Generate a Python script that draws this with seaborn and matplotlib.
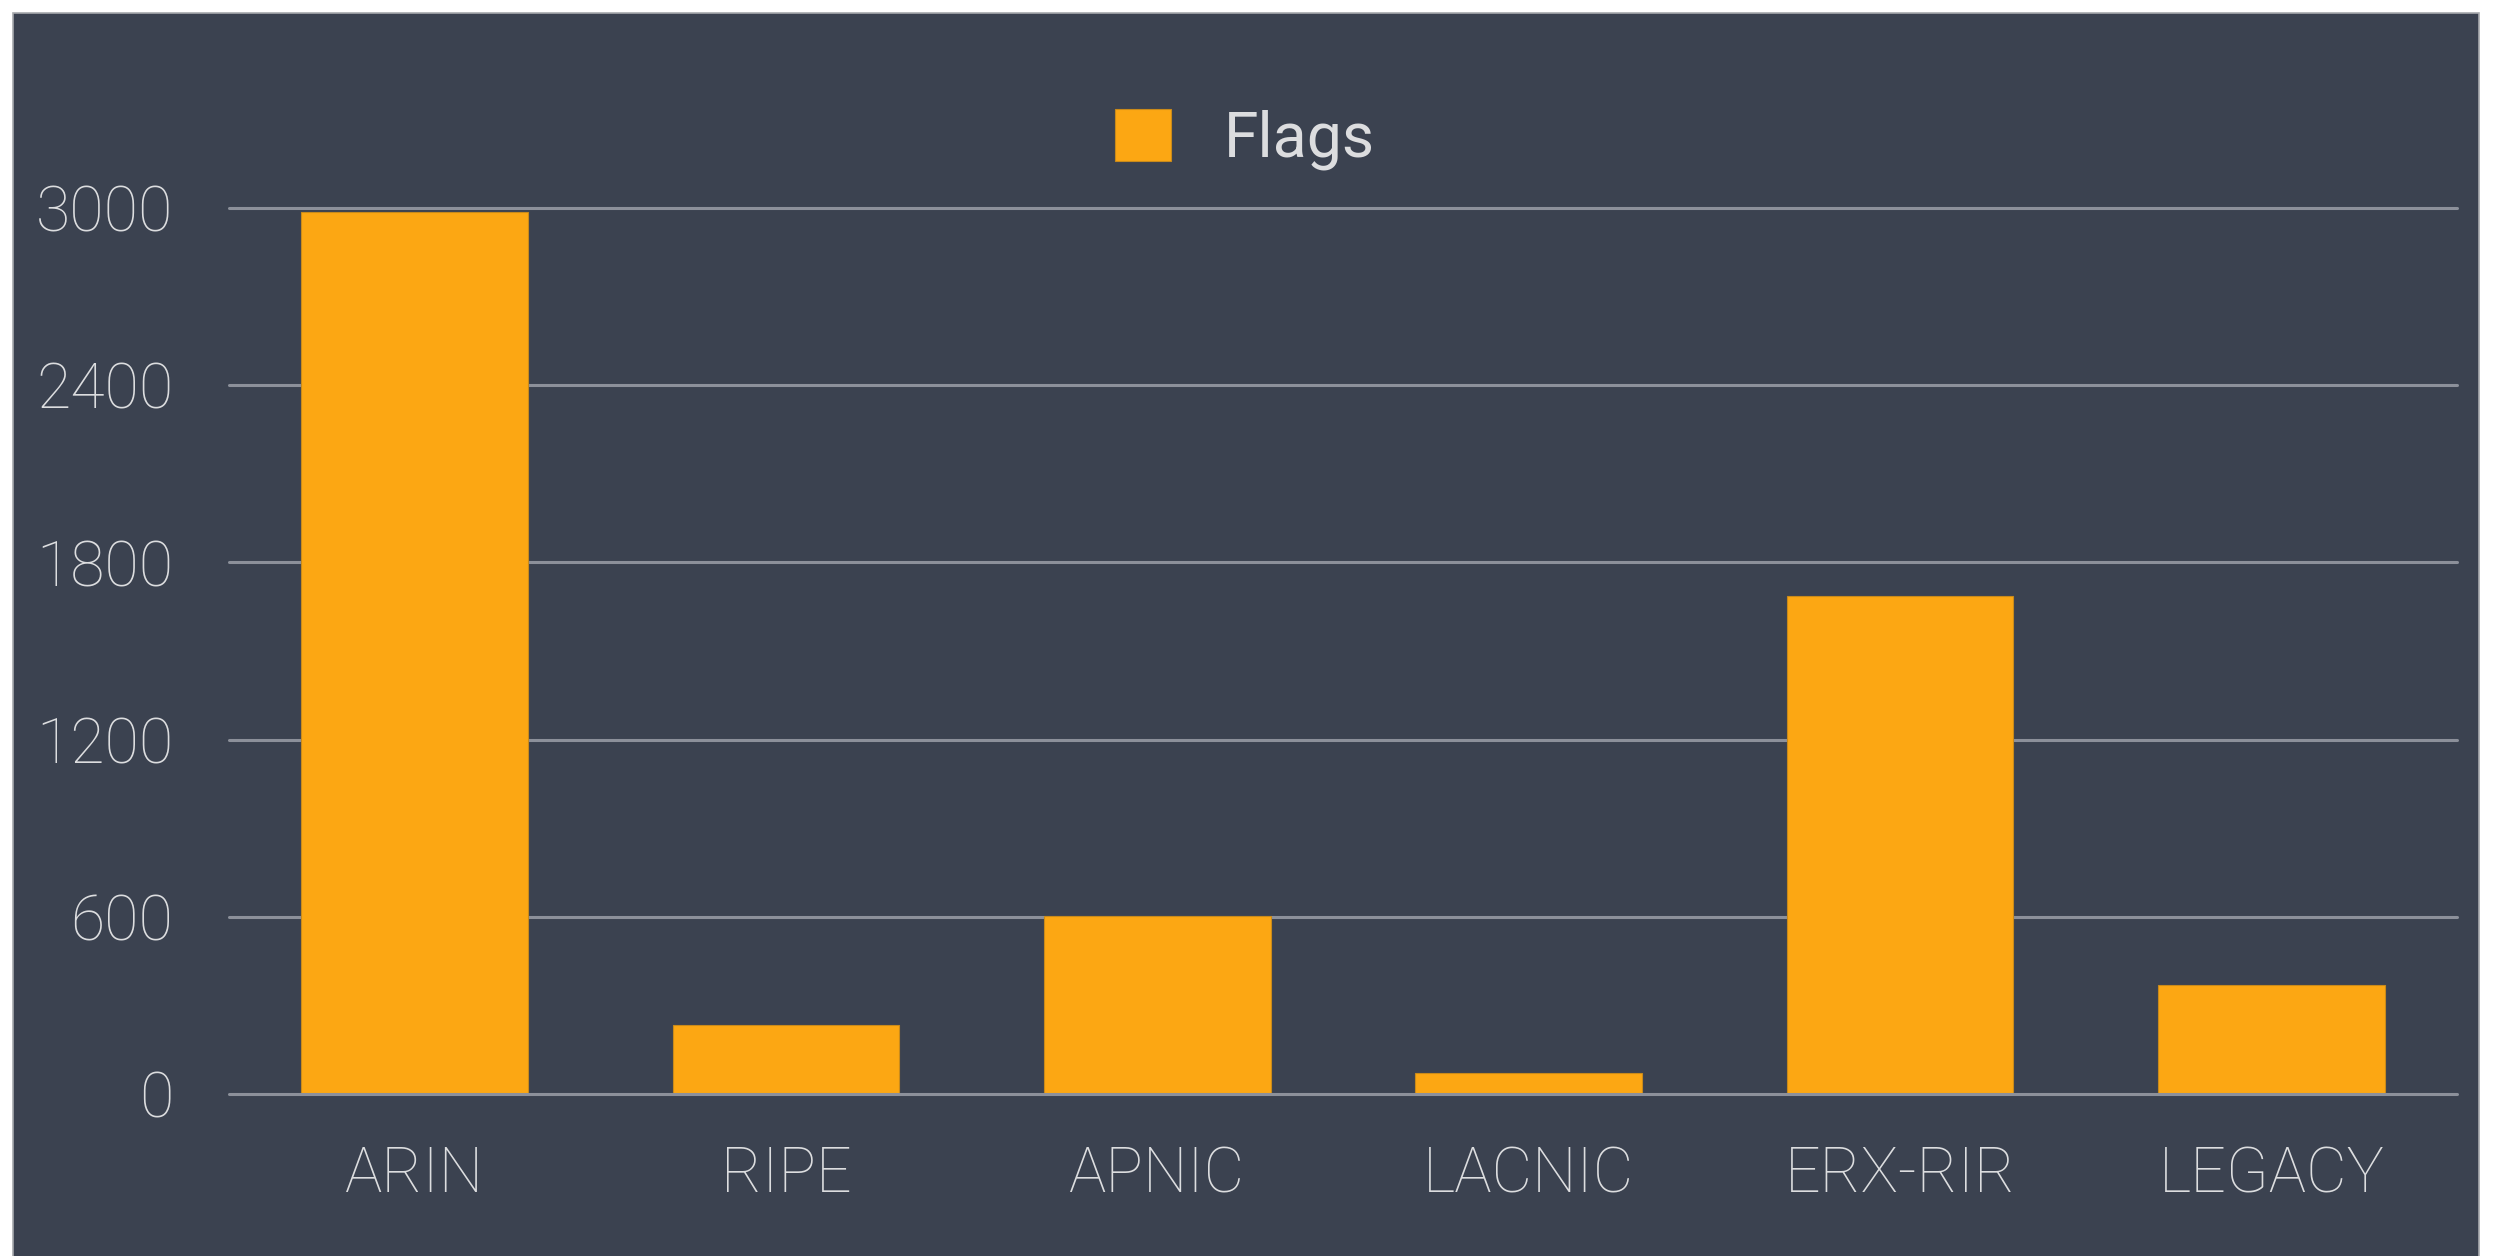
import matplotlib
matplotlib.use("Agg")
import matplotlib.pyplot as plt
import seaborn as sns
import pandas as pd
from matplotlib.patches import Rectangle

# ---- data ----
categories = ["ARIN", "RIPE", "APNIC", "LACNIC", "ERX-RIR", "LEGACY"]
flags = [2987, 234, 604, 71, 1686, 368]
series_name = "Flags"
y_ticks = [0, 600, 1200, 1800, 2400, 3000]

df = pd.DataFrame({"rir": categories, "value": flags})

sns.set_theme(style="white")
plt.rcParams["font.family"] = ["Roboto", "DejaVu Sans"]

W, H = 2500, 1256
fig = plt.figure(figsize=(W / 100, H / 100), dpi=100)
fig.patch.set_facecolor("white")

panel_color = "#3b4250"
text_color = "#dcdddf"
grid_color = "#8c909a"
bar_color = "#fca713"

# dark panel (extends beyond bottom edge)
fig.patches.append(Rectangle((13 / W, -0.05), (2479 - 13) / W, (H - 13) / H + 0.05,
                             transform=fig.transFigure, facecolor=panel_color,
                             edgecolor="#a7a9ad", linewidth=1.2, zorder=-10))

ax = fig.add_axes([229 / W, 0.1219, (2457 - 229) / W, 0.7196])
ax.set_zorder(5)
ax.set_facecolor("none")

sns.barplot(data=df, x="rir", y="value", color=bar_color, saturation=1,
            width=0.61, ax=ax, label=series_name, zorder=3,
            edgecolor="#c98a1a", linewidth=0.8)

ax.set_xlim(-0.5, len(categories) - 0.5)
ax.set_ylim(-30, 3030)
ax.set_yticks(y_ticks)
ax.set_yticklabels([str(t) for t in y_ticks])
for t in y_ticks:
    ax.axhline(t, color=grid_color, linewidth=2.2, zorder=4 if t == 0 else 1,
               clip_on=False)

for s in ax.spines.values():
    s.set_visible(False)
ax.set_xlabel("")
ax.set_ylabel("")
ax.tick_params(axis="y", length=0, pad=40, labelsize=45, labelcolor=text_color)
ax.tick_params(axis="x", length=0, pad=30, labelsize=45, labelcolor=text_color)
for lbl in ax.get_xticklabels() + ax.get_yticklabels():
    lbl.set_fontweight("light")

leg = ax.get_legend()
if leg is not None:
    leg.remove()
handles, labels = ax.get_legend_handles_labels()
lg = fig.legend(handles[:1], labels[:1], loc="center", bbox_to_anchor=(0.498, 0.889),
                frameon=False, fontsize=45, handlelength=0.9, handleheight=0.9,
                handletextpad=0.85, borderpad=0)
lg.set_zorder(6)
for t in lg.get_texts():
    t.set_color(text_color)

fig.savefig("out.png", dpi=100, facecolor="white")
